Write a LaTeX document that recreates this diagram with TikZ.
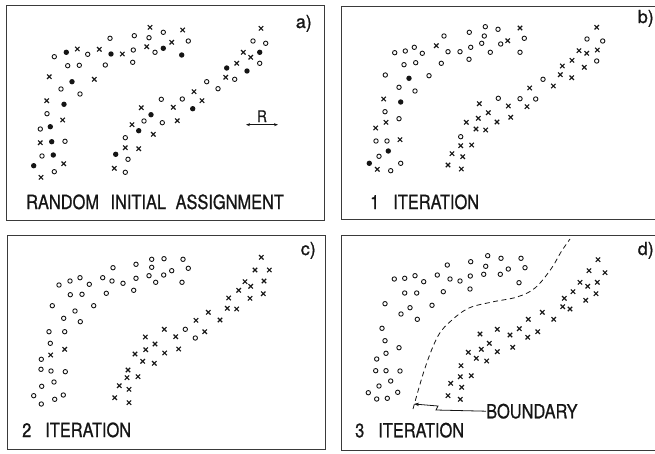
\documentclass[tikz,border=0pt]{standalone}
\usepackage{fontspec}
\usepackage{tikz}
\usetikzlibrary{arrows.meta,positioning}
\newfontfamily\letterfont[FakeStretch=0.84,FakeBold=0.8]{TeX Gyre Heros}
\newfontfamily\tagfont[FakeBold=1]{TeX Gyre Heros}
\definecolor{ink}{HTML}{151515}
\definecolor{framegray}{HTML}{3A3A3A}
\tikzset{
  panel/.style={draw=framegray, line width=1pt},
  dotopen/.style={draw=ink, line width=0.9pt},
  dotfull/.style={fill=ink},
  xline/.style={draw=ink, line width=1.1pt},
  capt/.style={font=\letterfont\fontsize{19.5}{24}\selectfont, text=ink,
    inner sep=0pt, anchor=base west},
  tag/.style={font=\tagfont\fontsize{18}{20}\selectfont, text=ink,
    inner sep=0pt, anchor=base east},
  bndline/.style={draw=ink, line width=0.8pt, dash pattern=on 5pt off 3.5pt},
  pointer/.style={-{Stealth[length=5pt,width=3.5pt]}, draw=ink, line width=0.8pt},
}

\begin{document}
\begin{tikzpicture}[x=1pt,y=-1pt]
  \useasboundingbox (0,0) rectangle (655,453);
  % four panels
  \draw[panel] (6,5) rectangle (324,220);
  \draw[panel] (341,6) rectangle (662,219);
  \draw[panel] (7,235) rectangle (325,449);
  \draw[panel] (341,235) rectangle (662,450);

  % a) random initial assignment
  \foreach \x/\y in {163.3/32.3,134.3/35.7,149/37.7,110/38.3,188.3/41,133.3/50,54.3/56.7,
      87.7/54.3,155/52.3,132.7/62.3,105.3/65,67.7/65.7,79.3/65.3,61/89,80/94,47/113.7,
      40.3/129,65/141.3,42/156,54.3/171.7,253/41,265.7/43.3,259.7/63.3,234.7/79.3,
      206.7/81.7,218/88.7,161.3/99.3,182.3/99,144/121,162.3/122.7,125.3/137.7,
      128/159.3,125.3/172.3}
    \draw[dotopen] (\x,\y) circle (2.2);
  \foreach \x/\y in {66.3/52.3,111/54,163.3/48.3,181.7/55,72/81.7,64/104.3,50.3/126.7,
      51.7/141.7,53.3/155,33.7/165.7,259.7/52.3,226.7/68,247/71,192.7/108.7,151/114.7,
      138.7/130.7,115.7/154.3}
    \fill[dotfull] (\x,\y) circle (2.7);
  \foreach \x/\y in {150/27.3,182.7/30,171.7/42.3,146.7/46.7,99.3/49.3,77.3/49,122.3/54,
      49.3/76.7,94.3/79.3,46.7/100.7,62.7/120,40.3/142.7,63.7/163.7,41/177.3,261/28.3,
      243.3/52.3,250.7/57.3,236.7/63.3,225.7/77.3,194/91.7,202/100.7,141.3/107.7,
      173.3/107.3,132/124.7,177.3/120.7,153.3/134.3,125.3/147.7,138.7/148.7,114.3/168.3}
    \draw[xline] (\x,\y) +(-2.2,-2.2) -- +(2.2,2.2) +(-2.2,2.2) -- +(2.2,-2.2);
  \node[font=\letterfont\fontsize{16}{18}\selectfont, text=ink, inner sep=0pt,
        anchor=base] (rlab) at (262,122) {R};
  \draw[{Stealth[length=4pt,width=3pt]}-{Stealth[length=4pt,width=3pt]}, ink, line width=0.9pt]
      ([xshift=-16pt,yshift=-2.5pt]rlab.south) -- ([xshift=16pt,yshift=-2.5pt]rlab.south);
  \node[tag] (taga) at (312,28) {a)};
  \node[capt] (capa) at (26,209) {RANDOM\hspace{7pt} INITIAL\hspace{5pt} ASSIGNMENT};

  % b) 1 iteration
  \foreach \x/\y in {587/39,602.7/41,596.7/61,543/79.3,520/98.7,535.7/99,498.3/98.3,
      460.7/136.7,485.3/26.7,498/29.3,469.3/32.3,444/36,524.3/38.3,484.3/36,481.7/43.3,
      500.7/44,470.7/47.3,490.3/52.3,520/52.3,460/51.7,448/51.7,469/59.3,441.3/63.3,
      414.3/47.3,405.3/51,394.7/52.7,422.3/53.3,404/64.7,415.7/62.7,429/75.7,385.3/75,
      399/87.3,415/91,385/111.7,399/118.7,376/141,387/141,379/156.3,390.7/170.7,
      400.7/163.3}
    \draw[dotopen] (\x,\y) circle (2.2);
  \foreach \x/\y in {409/78.3,400.7/102,388.3/151,369.3/163.3}
    \fill[dotfull] (\x,\y) circle (2.7);
  \foreach \x/\y in {596.7/27.3,579/50.7,586.7/53.3,597.3/50,572/60.3,584.3/67.3,
      562.3/66,560.3/74.7,571.7/77.7,553.3/86,529.7/88,527/106.7,508.3/106,479.3/103.7,
      488.3/112.7,510.7/117.3,478.3/118.3,466.3/122.3,497/122,476/129,485.7/130,
      460.7/145.7,471.7/145,452/153.7,462.7/156.7,448/165,461.3/169,520/28,507.7/40.7,
      436.3/45.7,383.7/99,386/122.3,375.7/128,400/139.7,377.3/169.3}
    \draw[xline] (\x,\y) +(-2.2,-2.2) -- +(2.2,2.2) +(-2.2,2.2) -- +(2.2,-2.2);
  \node[tag] (tagb) at (654,23) {b)};
  \node[capt] (capb) at (370,209) {1\hspace{14pt}ITERATION};

  % c) 2 iteration
  \foreach \x/\y in {151.7/259.3,164/258.7,183/259.3,136/264.3,113/267.7,151.7/267.3,
      188.3/268.3,171.7/270.7,163.7/275,149/275.7,136/278.3,155.7/282.3,102.7/277.7,
      112/281,123/283.3,182/282.3,80/277.7,70/281,59/285,89.3/284.3,133.7/290.3,
      106.3/293.3,70.3/294.7,82/294.3,52.3/305.7,93.7/305.7,75/311,63.7/318.3,80.3/321.7,
      49/331.7,64.7/331.7,50.3/343.3,41.3/359.3,41/369.3,51/371,65.3/371.7,54/382,
      41.7/386.3,33.7/395.7,41.3/404,54.7/399.3,63.3/395,185.3/329.3,195.3/338}
    \draw[dotopen] (\x,\y) circle (2.2);
  \foreach \x/\y in {50.7/355,64.7/349.3,261.3/257.3,255/270,269.3/270,245/281.7,
      250.7/286.3,264/281,238.7/290.3,263.3/293.7,250/298.3,228.7/298,227.3/308.3,
      236.7/309,208.3/312.3,220/320,196/320.3,204.7/331.7,164.3/329.3,175.7/336.7,
      145.3/337,155/344,178.7/349,145.7/349.7,135/354,164.7/353,142.7/361.3,154.3/363.3,
      128/370,127/377.7,138/376.7,119.3/385.7,129/389.3,114.7/397.7,129/402.7}
    \draw[xline] (\x,\y) +(-2.2,-2.2) -- +(2.2,2.2) +(-2.2,2.2) -- +(2.2,-2.2);
  \node[tag] (tagc) at (316,255) {c)};
  \node[capt] (capc) at (22,437) {2\hspace{14pt}ITERATION};

  % d) 3 iteration, with the boundary
  \foreach \x/\y in {487.7/255.7,501/258.3,521/258.3,470.7/261.7,447.3/265,485.7/266.3,
      525/267.7,508.3/269,500.3/274.3,483.7/274.3,470.3/276,460/281,450/279,437.3/275,
      519/282.7,394.3/279,404.7/278.3,415/275.7,423.7/281.7,470/289,443.3/291.7,
      404.7/293,416.7/293,385/303.7,432/305.3,410/307.7,401/314,417.3/319.3,382/328.3,
      385/340.7,399/347.7,386/353.3,376.7/359,375.7/370.7,386/370.7,400/371,390.7/381,
      379/386,368.3/392.7,376.7/399,387.3/398.3,397.7/392.3}
    \draw[dotopen] (\x,\y) circle (2.2);
  \foreach \x/\y in {598/259.7,589/270.7,605/272.7,580/282.3,587.7/286.3,597.3/282.3,
      573/291.7,596/293.7,585.7/300.3,564.3/298.3,562.7/306.7,570/309,542.3/312.3,
      553.7/319.3,528.3/319.3,519.3/328.7,537.7/331.7,527.7/337.3,497.3/329.3,510/335,
      480/334,489.3/343.3,512.7/347.3,481.3/349.3,468.3/352.3,497.3/351.7,476.3/358.3,
      486.7/361,461/365.7,460.3/376.7,471.3/375.7,450.7/383.3,461.7/387.3,448/395.7,
      460.3/399.3}
    \draw[xline] (\x,\y) +(-2.2,-2.2) -- +(2.2,2.2) +(-2.2,2.2) -- +(2.2,-2.2);
  \coordinate (bend) at (414,404);
  \draw[bndline] plot[smooth, tension=0.6] coordinates {(413,409) (425,368) (438,336)
      (452,320) (469,308) (492,302) (517,297) (535,288) (551,269) (561,252) (570,239)};
  \node[capt] (bnd) at (486,418.3) {BOUNDARY};
  \draw[pointer] (bnd.west) -- (436,410) -- (438,406) -- (bend);
  \node[tag] (tagd) at (654,255) {d)};
  \node[capt] (capd) at (355,437.3) {3\hspace{14pt}ITERATION};
\end{tikzpicture}
\end{document}
